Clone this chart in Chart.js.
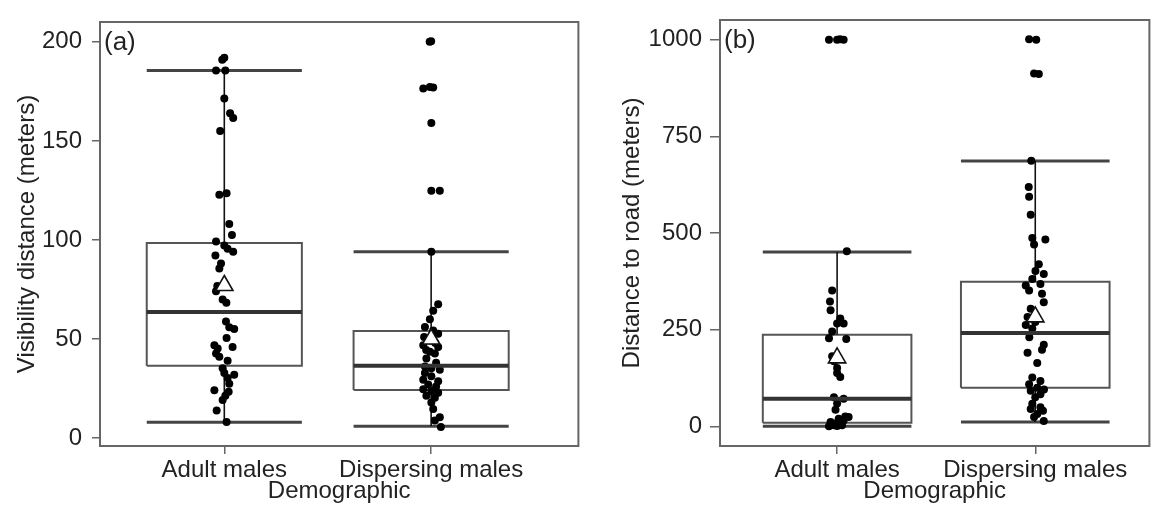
<!DOCTYPE html>
<html>
<head>
<meta charset="utf-8">
<script src="https://cdn.jsdelivr.net/npm/chart.js@4.4.1/dist/chart.umd.min.js"></script>
<style>
  html, body { margin: 0; padding: 0; background: #fff; }
  #wrap { position: relative; width: 1161px; height: 513px; overflow: hidden; background: #fff; }
  .panel { position: absolute; top: 0; }
</style>
</head>
<body>
<div id="wrap">
  <canvas id="chartA" class="panel" width="590" height="513" style="left:0px"></canvas>
  <canvas id="chartB" class="panel" width="581" height="513" style="left:580px"></canvas>
</div>
<script>
// ---------- DATA ----------
const categories = ['Adult males', 'Dispersing males'];
const xTitle = 'Demographic';

// Panel (a) : visibility distance (m)
const visTicks = [0, 50, 100, 150, 200];
const visLow    = [8, 6];
const visQ1     = [36.5, 24.3];
const visMedian = [63.6, 36.5];
const visQ3     = [98.5, 54];
const visHigh   = [185.5, 94];
const visMean   = [77, 50];
const visAdultValues = [192, 191, 185.5, 185.5, 171.4, 164, 161.5, 155, 122.8, 123.6, 108, 102.5, 99.2, 97.2, 95.5, 94, 92.2, 88.1, 85.6, 76.7, 74.1, 70, 68.3, 58.8, 55.9, 55.1, 50.5, 46.9, 45.2, 46, 42.7, 41.1, 39, 35.3, 32.8, 32, 30.3, 27.4, 24.1, 23.4, 21.3, 19.2, 13.9, 8.1];
const visAdultJitter = [0, -0.01, -0.04, 0.005, 0, 0.028, 0.043, -0.02, -0.024, 0.011, 0.024, 0.037, -0.04, 0, 0.016, 0.043, -0.043, -0.016, -0.024, -0.034, -0.04, -0.008, 0.01, 0.008, 0.024, 0.048, 0.011, -0.048, -0.032, 0.04, -0.04, -0.024, 0.016, -0.008, 0, 0.048, 0.016, 0.024, -0.048, 0.021, 0.005, -0.008, -0.037, 0.011];
const visDispValues = [200.3, 200, 177.2, 176.4, 177, 159, 124.8, 124.8, 94, 67.5, 64.2, 60, 56, 54.3, 52.6, 51, 49.3, 48, 46.9, 46, 44.5, 43.6, 42.7, 40.2, 38, 36.1, 35.3, 34.5, 32.8, 31.2, 29.5, 28.7, 27, 26, 24.6, 23.8, 22.9, 21.3, 20.4, 18, 14.7, 10.5, 8.9, 5.6];
const visDispJitter = [0, -0.007, -0.006, -0.038, 0.01, 0.001, 0.001, 0.042, 0.001, 0.034, 0.01, -0.006, -0.03, 0.01, 0.034, -0.034, -0.006, 0.02, -0.038, 0.034, -0.024, -0.006, 0.018, -0.023, 0.024, -0.03, 0.001, 0.042, -0.03, 0.001, -0.038, 0.034, -0.014, 0.024, -0.038, 0.001, 0.034, -0.023, 0.018, 0.001, 0.01, 0.042, 0.018, 0.047];

// Panel (b) : distance to road (m)
const roadTicks = [0, 250, 500, 750, 1000];
const roadLow    = [0, 11];
const roadQ1     = [9, 100];
const roadMedian = [71, 241];
const roadQ3     = [237, 374];
const roadHigh   = [451, 686];
const roadMean   = [177, 283];
const roadAdultValues = [1000, 1000, 1000, 1001, 453, 351, 323, 300, 279, 266, 266, 245, 228, 226, 181, 168, 151, 138, 127.6, 75, 71, 59, 42.5, 25.5, 23.7, 19.6, 15, 11, 5, 2.5, 0, 1, 3, 8];
const roadAdultJitter = [-0.041, 0, 0.033, 0.015, 0.049, -0.025, -0.036, -0.033, 0.016, 0.033, 0, -0.025, -0.041, 0.046, -0.025, -0.016, 0, 0, 0.016, -0.016, 0.033, 0, -0.008, 0.041, 0.058, 0.008, 0.033, -0.033, 0.016, -0.016, -0.041, 0, 0.025, -0.005];
const roadDispValues = [1001, 1000, 912.5, 911, 687, 619, 594, 547, 487, 483, 470, 419, 402, 394, 381, 368, 364, 351, 343, 321, 304, 283, 270, 262, 253, 230, 211, 198, 190, 164, 126, 117, 109, 100, 95, 92, 83, 75, 58, 49, 45, 40, 32, 24, 13.5];
const roadDispJitter = [-0.031, 0.005, -0.006, 0.018, -0.02, -0.033, -0.031, -0.023, -0.015, 0.051, -0.006, 0.018, 0.001, 0.043, -0.015, 0.026, -0.048, -0.031, 0.034, 0.043, -0.023, -0.039, 0, -0.048, -0.015, -0.03, 0.043, 0.034, -0.039, 0.01, -0.015, 0.026, -0.031, 0.01, 0.044, -0.023, 0.026, 0, -0.015, 0.026, -0.023, 0.039, 0.01, -0.006, 0.043];

// ---------- STYLE ----------
const FONT = 'Liberation Sans, Arial, Helvetica, sans-serif';
const TEXT = '#222';
const BOX_HALF = 0.375;

function boxDatasets(low, q1, med, q3, high, mean, groups) {
  const ds = [];
  for (let i = 0; i < low.length; i++) {
    const x = i + 1;
    const line = (data, color, width) => ({
      type: 'scatter', data, showLine: true, borderColor: color, borderWidth: width,
      pointRadius: 0, fill: false, tension: 0, order: 5
    });
    ds.push(line([{x: x, y: q3[i]}, {x: x, y: high[i]}], '#111', 1.6));
    ds.push(line([{x: x, y: low[i]}, {x: x, y: q1[i]}], '#111', 1.6));
    ds.push(line([{x: x - BOX_HALF, y: q1[i]}, {x: x + BOX_HALF, y: q1[i]}, {x: x + BOX_HALF, y: q3[i]}, {x: x - BOX_HALF, y: q3[i]}, {x: x - BOX_HALF, y: q1[i]}], '#555', 2));
    ds.push(line([{x: x - BOX_HALF, y: high[i]}, {x: x + BOX_HALF, y: high[i]}], '#444', 3));
    ds.push(line([{x: x - BOX_HALF, y: low[i]}, {x: x + BOX_HALF, y: low[i]}], '#444', 3));
    ds.push(Object.assign(line([{x: x - BOX_HALF, y: med[i]}, {x: x + BOX_HALF, y: med[i]}], '#333', 4), {order: 2}));
    const pts = groups[i].values.map((v, k) => ({x: x + groups[i].jitter[k], y: v}));
    ds.push({type: 'scatter', data: pts, pointRadius: 4, pointBackgroundColor: '#000', pointBorderWidth: 0, borderColor: '#000', showLine: false, order: 3});
    ds.push({type: 'scatter', data: [{x: x, y: mean[i]}], pointStyle: 'triangle', pointRadius: 10, pointBorderWidth: 1.6,
             pointBorderColor: '#111', pointBackgroundColor: 'rgba(255,255,255,1)', showLine: false, order: 1});
  }
  return ds;
}

const framePlugin = {
  id: 'frame',
  afterDatasetsDraw(chart, args, opts) {
    const {ctx, chartArea: a} = chart;
    ctx.save();
    ctx.strokeStyle = '#666';
    ctx.lineWidth = 2;
    ctx.strokeRect(a.left, a.top, a.right - a.left, a.bottom - a.top);
    ctx.fillStyle = TEXT;
    ctx.font = '26px ' + FONT;
    ctx.textBaseline = 'top';
    ctx.textAlign = 'left';
    ctx.fillText(opts.label, a.left + 4, a.top + 8);
    ctx.restore();
  }
};

function makePanel(id, cfg) {
  const font = {family: FONT, size: 24, lineHeight: 1};
  new Chart(document.getElementById(id), {
    type: 'scatter',
    data: {datasets: boxDatasets(cfg.low, cfg.q1, cfg.med, cfg.q3, cfg.high, cfg.mean, cfg.groups)},
    options: {
      responsive: false, animation: false, devicePixelRatio: 1,
      layout: {padding: {top: 14, right: cfg.padRight, left: 0, bottom: 0}},
      plugins: {legend: {display: false}, tooltip: {enabled: false}, frame: {label: cfg.label}},
      scales: {
        x: {
          type: 'linear', min: cfg.xMin, max: cfg.xMax,
          afterBuildTicks: s => { s.ticks = categories.map((c, i) => ({value: i + 1})); },
          afterFit: s => { s.height = 67; },
          ticks: {callback: v => categories[Math.round(v) - 1], font, color: TEXT, padding: 4, maxRotation: 0, autoSkip: false},
          grid: {drawOnChartArea: false, drawTicks: true, tickLength: 8, color: '#666', lineWidth: 1.5},
          border: {display: false},
          title: {display: true, text: xTitle, font, color: TEXT, padding: {top: 0, bottom: 10}}
        },
        y: {
          type: 'linear', min: cfg.yMin, max: cfg.yMax,
          afterBuildTicks: s => { s.ticks = cfg.ticks.map(v => ({value: v})); },
          afterFit: s => { s.width = cfg.yWidth; },
          ticks: {callback: v => String(v), font, color: TEXT, padding: cfg.tickPad},
          grid: {drawOnChartArea: false, drawTicks: true, tickLength: cfg.tickLen, color: '#666', lineWidth: 1.5},
          border: {display: false},
          title: {display: true, text: cfg.yTitle, font, color: TEXT, padding: {top: cfg.yTitlePad, bottom: 0}}
        }
      }
    },
    plugins: [framePlugin]
  });
}

makePanel('chartA', {
  label: '(a)', yTitle: 'Visibility distance (meters)', ticks: visTicks,
  low: visLow, q1: visQ1, med: visMedian, q3: visQ3, high: visHigh, mean: visMean,
  groups: [{values: visAdultValues, jitter: visAdultJitter}, {values: visDispValues, jitter: visDispJitter}],
  xMin: 0.399, xMax: 2.712, yMin: -4, yMax: 210, yWidth: 100, padRight: 9, tickLen: 8, tickPad: 10, yTitlePad: 15
});
makePanel('chartB', {
  label: '(b)', yTitle: 'Distance to road (meters)', ticks: roadTicks,
  low: roadLow, q1: roadQ1, med: roadMedian, q3: roadQ3, high: roadHigh, mean: roadMean,
  groups: [{values: roadAdultValues, jitter: roadAdultJitter}, {values: roadDispValues, jitter: roadDispJitter}],
  xMin: 0.409, xMax: 2.576, yMin: -51, yMax: 1051, yWidth: 140, padRight: 1, tickLen: 10, tickPad: 8, yTitlePad: 40
});
</script>
</body>
</html>
